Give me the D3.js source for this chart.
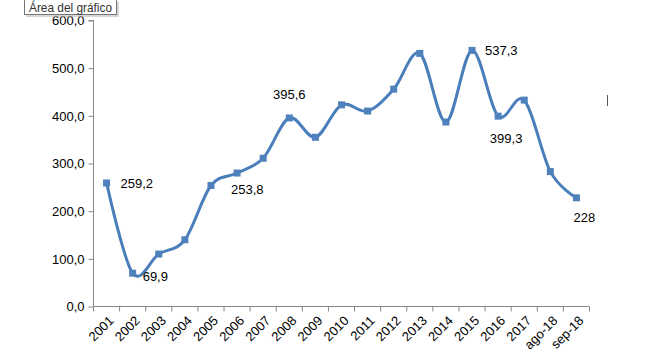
<!DOCTYPE html>
<html><head><meta charset="utf-8">
<script src="https://cdn.jsdelivr.net/npm/d3@7"></script>
<style>body{margin:0;background:#fff;} svg{display:block;}</style>
</head><body>
<svg id="chart" width="666" height="358"></svg>
<script>
const categories = ["2001","2002","2003","2004","2005","2006","2007","2008","2009","2010","2011","2012","2013","2014","2015","2016","2017","ago-18","sep-18"];
const values = [259.2,69.9,110,140,253.8,280,311,395.6,355,423,410,456,531,387,537.3,399.3,433,283,228];
const labelText = ["259,2","69,9",null,null,"253,8",null,null,"395,6",null,null,null,null,null,null,"537,3","399,3",null,null,"228"];
const yTicks = [0,100,200,300,400,500,600];

const svg = d3.select("#chart");
const x = d3.scaleBand().domain(categories).range([93.5, 589.5]);
const y = d3.scaleLinear().domain([0,600]).range([306.5, 20.5]);
const font = "'Liberation Sans', Arial, sans-serif";
const fmt = v => d3.format(".1f")(v).replace(".", ",");

// y axis
const ya = svg.append("g").attr("transform","translate(93.5,0)")
  .call(d3.axisLeft(y).tickValues(yTicks).tickSize(5).tickPadding(4).tickFormat(fmt));
ya.select(".domain").attr("stroke","#868686").attr("d","M-5,20.5H0V306.5");
ya.selectAll(".tick line").attr("stroke","#868686");
ya.selectAll(".tick text").attr("font-family",font).attr("font-size",13).attr("fill","#000");

// x axis
const xa = svg.append("g").attr("transform","translate(0,306.5)")
  .call(d3.axisBottom(x).tickSize(0).tickFormat(""));
xa.select(".domain").attr("stroke","#868686").attr("d","M93.5,0H589.5");
const bounds = [...categories.map(c => x(c)), x.range()[1]];
xa.selectAll(".tb").data(bounds).enter().append("line").attr("class","tb")
  .attr("x1",d=>d).attr("x2",d=>d).attr("y1",0).attr("y2",5).attr("stroke","#868686");
xa.selectAll(".xl").data(categories).enter().append("text").attr("class","xl")
  .attr("transform", d => `translate(${x(d)+x.bandwidth()/2+8},15) rotate(-45)`)
  .attr("text-anchor","end").attr("font-family",font).attr("font-size",13).attr("fill","#000")
  .text(d=>d);

// line
const pts = categories.map((c,i)=>[x(c)+x.bandwidth()/2, y(values[i])]);
svg.append("path").attr("d", d3.line().curve(d3.curveCardinal.tension(0))(pts))
  .attr("fill","none").attr("stroke","#4a7ebb").attr("stroke-width",3).attr("stroke-linejoin","round");
svg.selectAll(".m").data(pts).enter().append("rect").attr("class","m")
  .attr("x",d=>d[0]-3.5).attr("y",d=>d[1]-3.5).attr("width",7).attr("height",7).attr("fill","#4f81bd");

// data labels
const labelPos = {0:[14,5,"start"],1:[10,8,"start"],4:[20,8,"start"],7:[0,-19,"middle"],14:[13,5,"start"],15:[8,27,"middle"],18:[8,24,"middle"]};
categories.forEach((c,i)=>{
  if(!labelText[i]) return;
  const [dx,dy,anc] = labelPos[i];
  svg.append("text").attr("x",pts[i][0]+dx).attr("y",pts[i][1]+dy).attr("text-anchor",anc)
    .attr("font-family",font).attr("font-size",13).attr("fill","#000").text(labelText[i]);
});

// small stray mark
svg.append("line").attr("x1",607.5).attr("x2",607.5).attr("y1",95).attr("y2",106).attr("stroke","#555");

// tooltip
const tip = svg.append("g");
tip.append("rect").attr("x",26).attr("y",2).attr("width",93).attr("height",15).attr("fill","#bbb").attr("opacity",0.6);
tip.append("rect").attr("x",24.5).attr("y",-0.5).attr("width",92).attr("height",15).attr("fill","#fff").attr("stroke","#767676");
tip.append("text").attr("x",29).attr("y",11.5).attr("font-family",font).attr("font-size",12.5).attr("fill","#333")
  .attr("textLength",83).attr("lengthAdjust","spacingAndGlyphs").text("Área del gráfico");
</script>
</body></html>
